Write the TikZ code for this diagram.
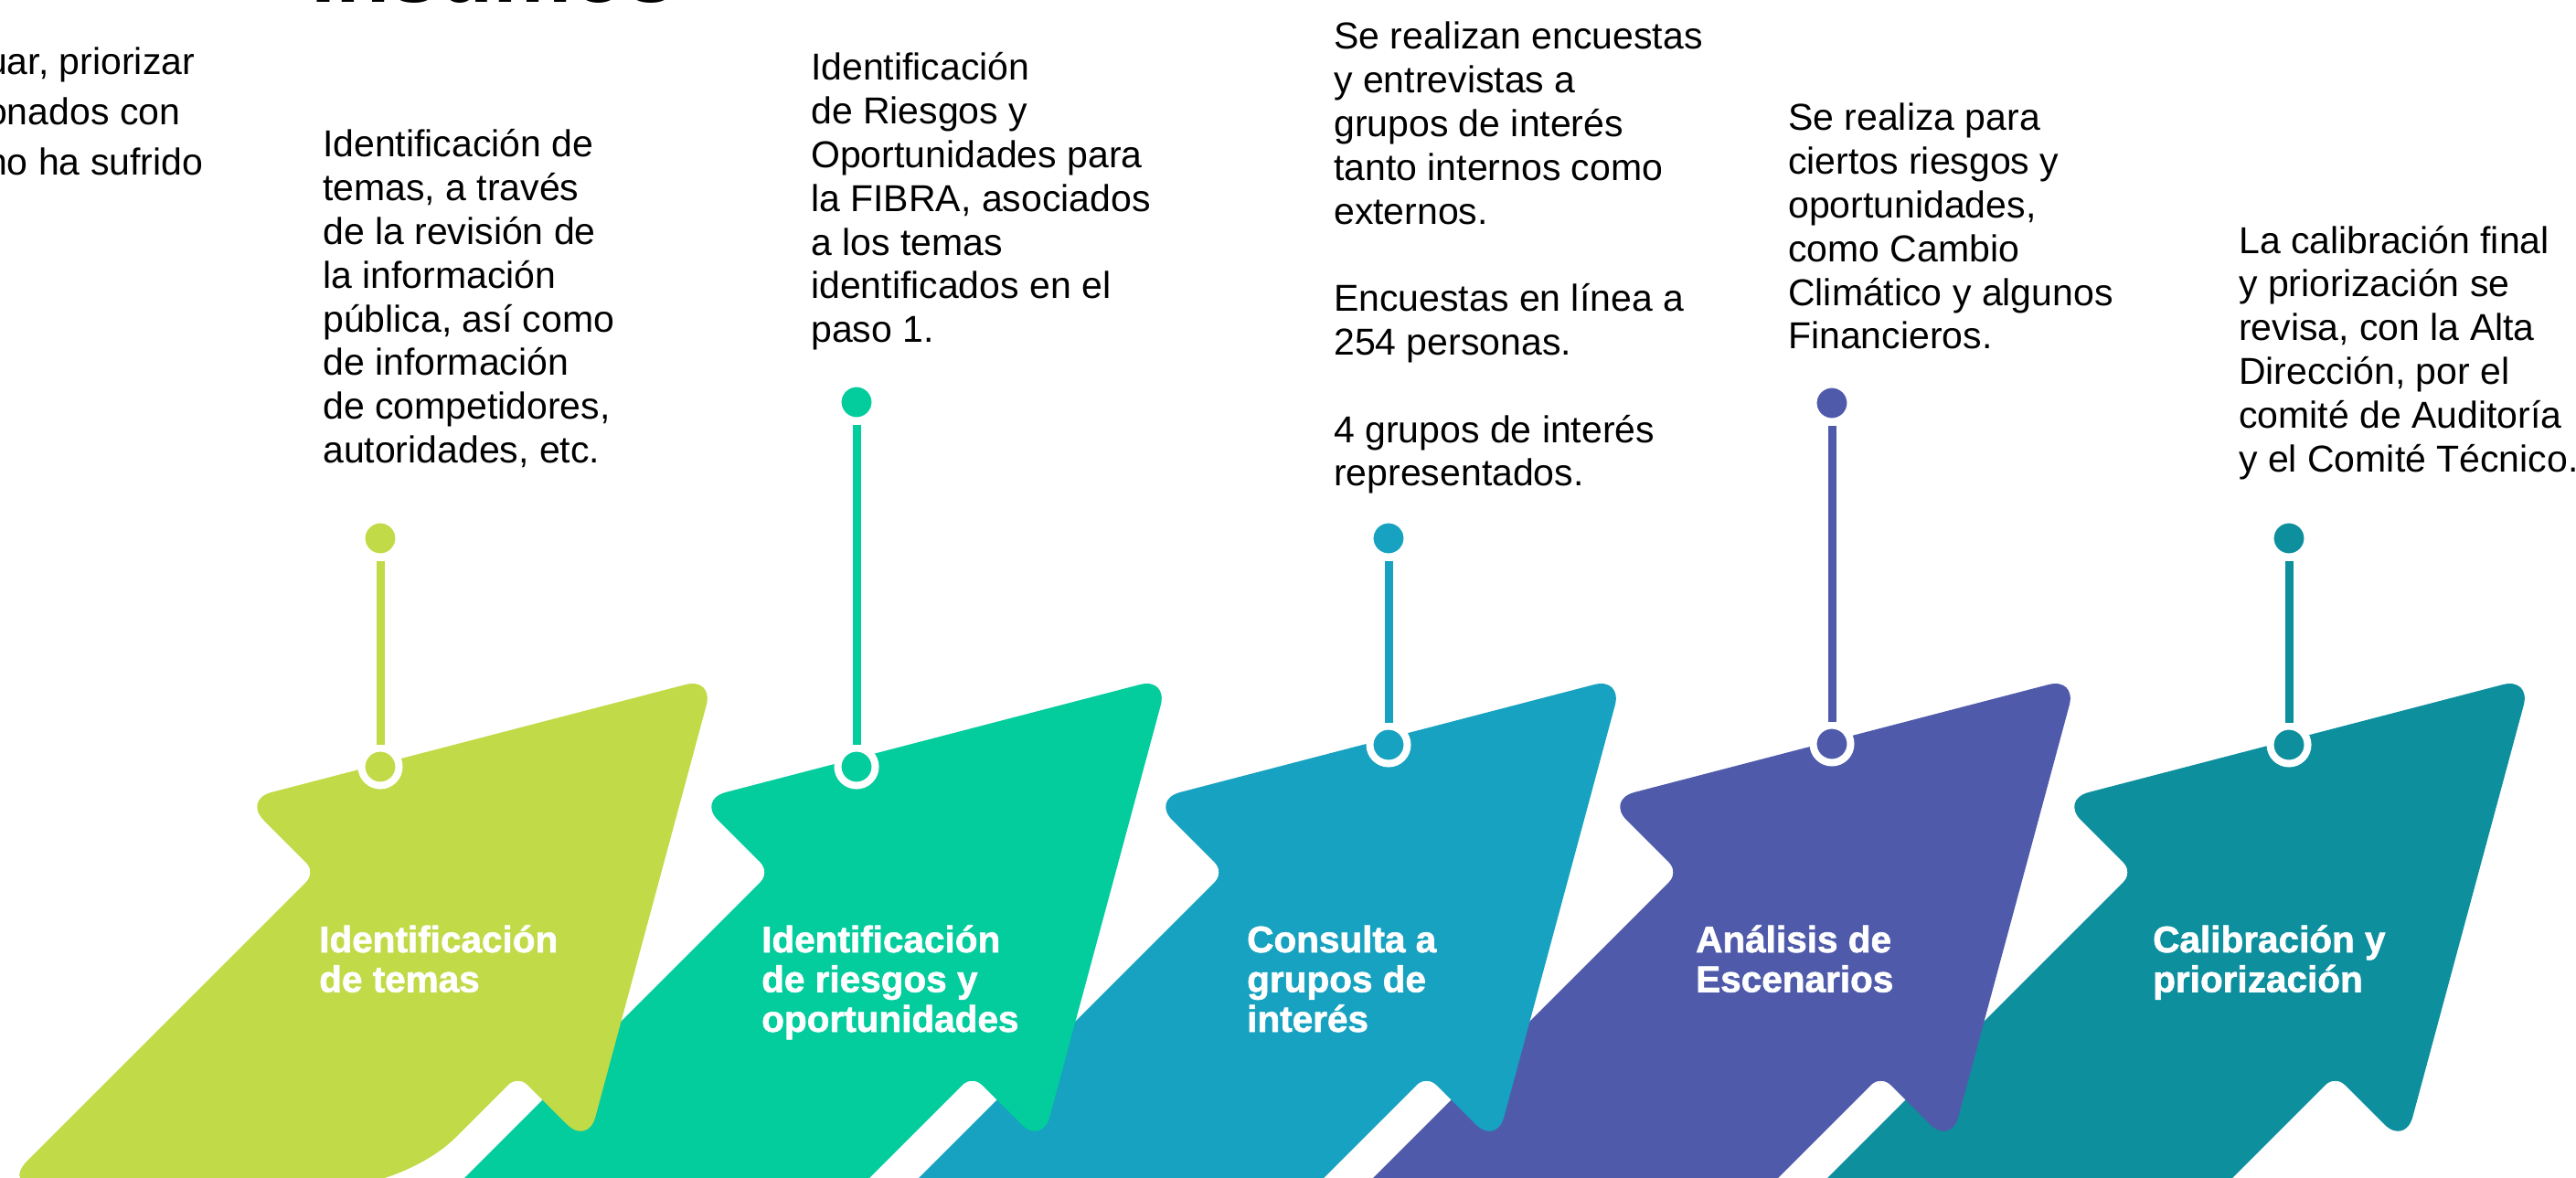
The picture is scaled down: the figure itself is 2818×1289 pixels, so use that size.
\documentclass[tikz,border=0pt]{standalone}
\usepackage{fontspec}
\setmainfont{Liberation Sans}
\newfontfamily\titlefont{Liberation Sans}[BoldFeatures={FakeBold=1.6}]
\definecolor{colTemas}{HTML}{C1DA47}
\definecolor{colRiesgos}{HTML}{03CC9D}
\definecolor{colConsulta}{HTML}{16A2C0}
\definecolor{colAnalisis}{HTML}{4F5BAA}
\definecolor{colCalibra}{HTML}{0D8F9E}
\newcommand{\notebox}[1]{\parbox[t]{430pt}{\raggedright #1}}

\begin{document}
\begin{tikzpicture}
                [x=1pt,y=-1pt,
                 knob/.style={circle,draw=white,line width=8pt,minimum size=41pt,inner sep=0pt},
                 stem/.style={line width=9pt},
                 note/.style={anchor=base west,inner sep=0pt,font=\fontsize{41}{47.8}\selectfont},
                 steptitle/.style={anchor=base west,inner sep=0pt,text=white,font=\titlefont\bfseries\fontsize{40.5}{43.5}\selectfont}]

                \clip (0,0) rectangle (2818,1289);

                % arrows, right to left so that each one lies over the next
                \foreach \i/\col in {4/colCalibra,3/colAnalisis,2/colConsulta,1/colRiesgos}
                    \fill[\col,shift={(497*\i,0)},rounded corners=15pt]
                        (150,1150) -- (345.5,954.5) [rounded corners=32pt] -- (266,875) -- (781,741) -- (643,1253)
                        [rounded corners=15pt] -- (566.5,1176.5) -- (343,1400) -- (-100,1400) -- cycle;
                \fill[colTemas,rounded corners=15pt]
                    (150,1150) -- (345.5,954.5) [rounded corners=32pt] -- (266,875) -- (781,741) -- (643,1253)
                    [rounded corners=15pt] -- (566.5,1176.5) [rounded corners=75pt] -- (445,1298)
                    [rounded corners=40pt] -- (2,1298) -- cycle;

                \node[note,font=\bfseries\fontsize{97}{97}\selectfont] (heading) at (340,3) {Insumos};
                \node[note,font=\fontsize{41}{55}\selectfont] (intro) at (-15,82)
                    {\notebox{uar, priorizar\\ onados con\\ no ha sufrido}};

                \node[knob,fill=colTemas]    (dot 1) at (416,589)  {};
                \node[knob,fill=colTemas]    (ring 1) at (416,839) {};
                \node[knob,fill=colRiesgos]  (dot 2) at (937,440)  {};
                \node[knob,fill=colRiesgos]  (ring 2) at (937,839) {};
                \node[knob,fill=colConsulta] (dot 3) at (1519,589) {};
                \node[knob,fill=colConsulta] (ring 3) at (1519,815) {};
                \node[knob,fill=colAnalisis] (dot 4) at (2004,441) {};
                \node[knob,fill=colAnalisis] (ring 4) at (2004,814) {};
                \node[knob,fill=colCalibra]  (dot 5) at (2504,589) {};
                \node[knob,fill=colCalibra]  (ring 5) at (2504,815) {};

                \draw[stem,colTemas]    (dot 1) -- (ring 1);
                \draw[stem,colRiesgos]  (dot 2) -- (ring 2);
                \draw[stem,colConsulta] (dot 3) -- (ring 3);
                \draw[stem,colAnalisis] (dot 4) -- (ring 4);
                \draw[stem,colCalibra]  (dot 5) -- (ring 5);

                \node[note] (note 1) at (353,172)
                    {\notebox{Identificación de\\ temas, a través\\ de la revisión de\\ la información\\ pública, así como\\ de información\\ de competidores,\\ autoridades, etc.}};
                \node[note] (note 2) at (887,88)
                    {\notebox{Identificación\\ de Riesgos y\\ Oportunidades para\\ la FIBRA, asociados\\ a los temas\\ identificados en el\\ paso 1.}};
                \node[note] (note 3) at (1459,54)
                    {\notebox{Se realizan encuestas\\ y entrevistas a\\ grupos de interés\\ tanto internos como\\ externos.\\[47.8pt] Encuestas en línea a\\ 254 personas.\\[47.8pt] 4 grupos de interés\\ representados.}};
                \node[note] (note 4) at (1956,143)
                    {\notebox{Se realiza para\\ ciertos riesgos y\\ oportunidades,\\ como Cambio\\ Climático y algunos\\ Financieros.}};
                \node[note] (note 5) at (2449,277)
                    {\notebox{La calibración final\\ y priorización se\\ revisa, con la Alta\\ Dirección, por el\\ comité de Auditoría\\ y el Comité Técnico.}};

                \node[steptitle] (title 1) at (349,1042)  {\notebox{Identificación\\ de temas}};
                \node[steptitle] (title 2) at (833,1042)  {\notebox{Identificación\\ de riesgos y\\ oportunidades}};
                \node[steptitle] (title 3) at (1364,1042) {\notebox{Consulta a\\ grupos de\\ interés}};
                \node[steptitle] (title 4) at (1855,1042) {\notebox{Análisis de\\ Escenarios}};
                \node[steptitle] (title 5) at (2355,1042) {\notebox{Calibración y\\ priorización}};

            \end{tikzpicture}
\end{document}
